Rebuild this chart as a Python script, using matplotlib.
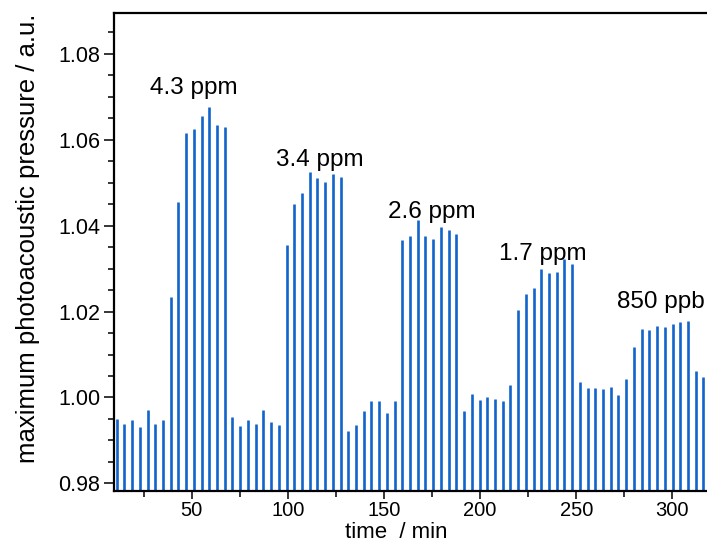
import matplotlib
matplotlib.use("Agg")
import matplotlib.pyplot as plt
from matplotlib.ticker import MultipleLocator, FormatStrFormatter

plt.rcParams["font.family"] = ["Liberation Sans", "DejaVu Sans"]

# sampling times (min) of the photoacoustic measurements
time_min = [
    10.9, 14.9, 18.9, 23.0, 27.0, 31.0, 35.0, 39.0, 43.0, 47.0,
    51.1, 55.1, 59.1, 63.1, 67.1, 71.1, 75.2, 79.2, 83.2, 87.2,
    91.2, 95.2, 99.3, 103.3, 107.3, 111.3, 115.3, 119.3, 123.3, 127.4,
    131.4, 135.4, 139.4, 143.4, 147.4, 151.5, 155.5, 159.5, 163.5, 167.5,
    171.5, 175.6, 179.6, 183.6, 187.6, 191.6, 195.6, 199.7, 203.7, 207.7,
    211.7, 215.7, 219.7, 223.7, 227.8, 231.8, 235.8, 239.8, 243.8, 247.8,
    251.9, 255.9, 259.9, 263.9, 267.9, 271.9, 276.0, 280.0, 284.0, 288.0,
    292.0, 296.0, 300.1, 304.1, 308.1, 312.1, 316.1,
]

# maximum photoacoustic pressure (a.u.)
pressure = [
    0.9950, 0.9938, 0.9947, 0.9931, 0.9972, 0.9938, 0.9948, 1.0233, 1.0455, 1.0615,
    1.0625, 1.0655, 1.0677, 1.0634, 1.0630, 0.9954, 0.9933, 0.9947, 0.9939, 0.9970,
    0.9943, 0.9936, 1.0356, 1.0451, 1.0476, 1.0525, 1.0510, 1.0502, 1.0521, 1.0513,
    0.9921, 0.9936, 0.9969, 0.9992, 0.9992, 0.9965, 0.9991, 1.0366, 1.0377, 1.0413,
    1.0377, 1.0370, 1.0397, 1.0390, 1.0380, 0.9969, 1.0009, 0.9994, 1.0002, 0.9997,
    0.9991, 1.0028, 1.0204, 1.0242, 1.0254, 1.0299, 1.0290, 1.0293, 1.0323, 1.0311,
    1.0036, 1.0023, 1.0023, 1.0019, 1.0024, 1.0006, 1.0044, 1.0117, 1.0160, 1.0156,
    1.0166, 1.0163, 1.0172, 1.0176, 1.0177, 1.0061, 1.0048,
]

# concentration labels and where they sit (time, pressure)
conc_labels = ["4.3 ppm", "3.4 ppm", "2.6 ppm", "1.7 ppm", "850 ppb"]
label_time = [51.2, 116.7, 174.8, 232.5, 293.8]
label_level = [1.0706, 1.0540, 1.0417, 1.0321, 1.0209]

BAR_COLOR = "#1164cc"
Y_BOTTOM, Y_TOP = 0.97822, 1.08954

fig = plt.figure(figsize=(7.07, 5.49), dpi=100)
ax = fig.add_axes([114 / 707, 58 / 549, 593 / 707, 478 / 549])

ax.vlines(time_min, Y_BOTTOM, pressure, color=BAR_COLOR, linewidth=1.9)

for text, t, lvl in zip(conc_labels, label_time, label_level):
    ax.text(t, lvl, text, ha="center", va="baseline", fontsize=17.5, color="black")

ax.set_xlim(9.57, 318.0)
ax.set_ylim(Y_BOTTOM, Y_TOP)

ax.xaxis.set_major_locator(MultipleLocator(50))
ax.xaxis.set_minor_locator(MultipleLocator(25))
ax.yaxis.set_major_locator(MultipleLocator(0.02))
ax.yaxis.set_minor_locator(MultipleLocator(0.005))
ax.yaxis.set_major_formatter(FormatStrFormatter("%.2f"))

ax.tick_params(which="major", direction="out", length=7, width=1.1, labelsize=15.5, pad=3)
ax.tick_params(which="minor", direction="out", length=4, width=1.1)
ax.tick_params(axis="x", which="major", length=6, pad=1, labelsize=14.5)

for side in ("left", "bottom", "top"):
    ax.spines[side].set_linewidth(1.6)
ax.spines["right"].set_visible(False)

ax.set_xlabel("time  / min", fontsize=16)
ax.xaxis.set_label_coords(0.4755, -0.065)
ax.set_ylabel("maximum photoacoustic pressure / a.u.", fontsize=18.5)
ax.yaxis.set_label_coords(-0.125, 0.529)

fig.savefig("out.png", dpi=100)
